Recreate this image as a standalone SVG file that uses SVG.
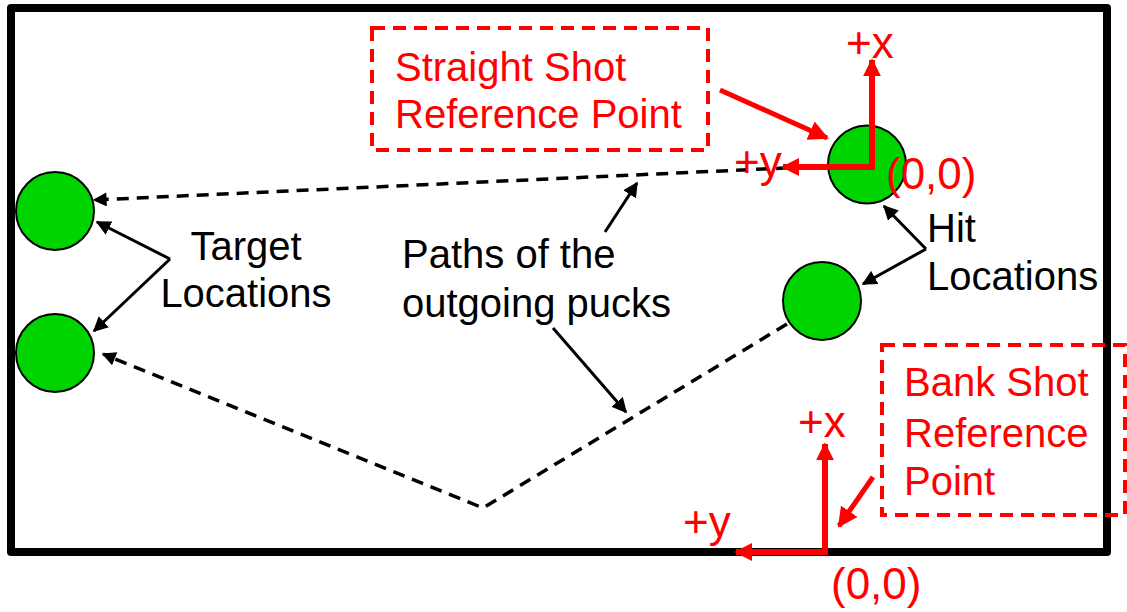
<svg xmlns="http://www.w3.org/2000/svg" width="1127" height="612" viewBox="0 0 1127 612">
<defs>
<style>
.lbl{font-family:"Liberation Sans",Arial,sans-serif;font-size:40px;fill:#000}
.red{fill:#FF0000}
.co{font-size:44px}
.puck{fill:#00D400;stroke:#000;stroke-width:2}
.path{fill:none;stroke:#000;stroke-width:3.5;stroke-dasharray:12,8}
.ptr{fill:none;stroke:#000;stroke-width:3}
.rptr{fill:none;stroke:#FF0000;stroke-width:5}
.axis{fill:none;stroke:#FF0000;stroke-width:6}
.rbox{fill:none;stroke:#FF0000;stroke-width:4;stroke-dasharray:13,8}
</style>
<marker id="ah" viewBox="0 0 10 10" refX="9" refY="5" markerWidth="5" markerHeight="5" markerUnits="strokeWidth" orient="auto"><path d="M0,0 L10,5 L0,10 z" fill="#000"/></marker>
<marker id="ahd" viewBox="0 0 10 10" refX="9" refY="5" markerWidth="15" markerHeight="14" markerUnits="userSpaceOnUse" orient="auto"><path d="M0,0 L10,5 L0,10 z" fill="#000"/></marker>
<marker id="ahr" viewBox="0 0 10 10" refX="9" refY="5" markerWidth="4" markerHeight="4" markerUnits="strokeWidth" orient="auto"><path d="M0,0 L10,5 L0,10 z" fill="#FF0000"/></marker>
<marker id="aha" viewBox="0 0 10 10" refX="9" refY="5" markerWidth="3" markerHeight="3" markerUnits="strokeWidth" orient="auto"><path d="M0,0 L10,5 L0,10 z" fill="#FF0000"/></marker>
</defs>
<rect width="1127" height="612" fill="#fff"/>
<g id="table"><rect x="11" y="8" width="1096" height="544" fill="none" stroke="#000" stroke-width="8" stroke-linejoin="round"/></g>

<g id="connectors">
<path class="path" d="M828,166 L94,200" marker-end="url(#ahd)"/>
<path class="path" d="M787,324 L483,508 L103,354" marker-end="url(#ahd)"/>
<path class="ptr" d="M170,259 L97,222" marker-end="url(#ah)"/>
<path class="ptr" d="M170,259 L94,331" marker-end="url(#ah)"/>
<path class="ptr" d="M605,232 L637,183" marker-end="url(#ah)"/>
<path class="ptr" d="M553,328 L626,412" marker-end="url(#ah)"/>
<path class="ptr" d="M926,249 L884,206" marker-end="url(#ah)"/>
<path class="ptr" d="M926,249 L863,284" marker-end="url(#ah)"/>
<path class="rptr" d="M720,90 L827,138" marker-end="url(#ahr)"/>
<path class="rptr" d="M873,477 L839,526" marker-end="url(#ahr)"/>
</g>

<g id="target1"><circle class="puck" cx="55" cy="211" r="39"/></g>
<g id="target2"><circle class="puck" cx="55" cy="353" r="39"/></g>
<g id="hit1"><circle class="puck" cx="867" cy="164.5" r="39"/></g>
<g id="hit2"><circle class="puck" cx="822" cy="301" r="39"/></g>

<g id="straight-axes">
<path class="axis" d="M872,167 L872,60" marker-end="url(#aha)"/>
<path class="axis" d="M875,167 L783,167" marker-end="url(#aha)"/>
<text class="lbl red co" x="846" y="58">+x</text>
<text class="lbl red co" x="734" y="177">+y</text>
<text class="lbl red co" x="886" y="189">(0,0)</text>
</g>

<g id="bank-axes">
<path class="axis" d="M825,555 L825,444" marker-end="url(#aha)"/>
<path class="axis" d="M828,552 L736,552" marker-end="url(#aha)"/>
<text class="lbl red co" x="798" y="437">+x</text>
<text class="lbl red co" x="683" y="537">+y</text>
<text class="lbl red co" x="831" y="599">(0,0)</text>
</g>

<g id="straight-ref">
<rect class="rbox" x="372" y="28" width="336" height="122"/>
<text class="lbl red" x="395" y="81">Straight Shot</text>
<text class="lbl red" x="395" y="128">Reference Point</text>
</g>

<g id="bank-ref">
<rect class="rbox" x="882" y="345" width="243" height="170"/>
<text class="lbl red" x="904" y="396">Bank Shot</text>
<text class="lbl red" x="904" y="447">Reference</text>
<text class="lbl red" x="904" y="495">Point</text>
</g>

<g id="target-label">
<text class="lbl" x="246" y="260" text-anchor="middle">Target</text>
<text class="lbl" x="246" y="307" text-anchor="middle">Locations</text>
</g>
<g id="paths-label">
<text class="lbl" x="402" y="268">Paths of the</text>
<text class="lbl" x="402" y="317">outgoing pucks</text>
</g>
<g id="hit-label">
<text class="lbl" x="927" y="242">Hit</text>
<text class="lbl" x="927" y="290">Locations</text>
</g>
</svg>
